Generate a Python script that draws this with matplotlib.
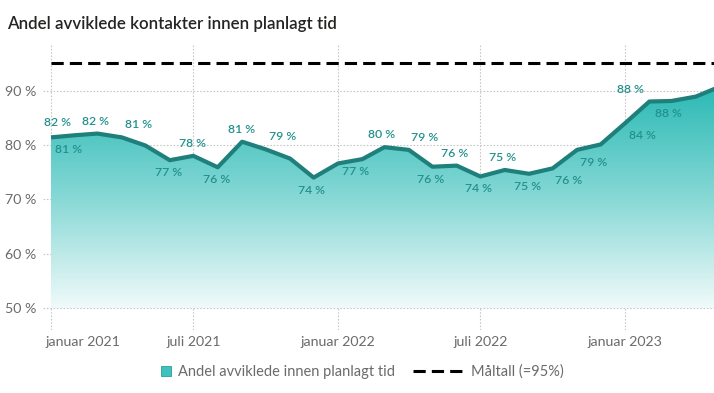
import numpy as np
import pandas as pd
import matplotlib
matplotlib.use("Agg")
import matplotlib.pyplot as plt
import matplotlib.dates as mdates
import matplotlib.transforms as mtransforms
from matplotlib.colors import LinearSegmentedColormap
from matplotlib.lines import Line2D

plt.rcParams['font.family'] = ['Lato', 'DejaVu Sans']

# monthly share (%) of contacts handled within planned time
months = pd.date_range("2021-01-01", "2023-05-01", freq="MS")
andel = [81.4, 81.8, 82.1, 81.4, 79.9, 77.2, 78.0, 75.9, 80.6, 79.2, 77.5, 74.0,
         76.6, 77.4, 79.6, 79.1, 76.0, 76.2, 74.2, 75.4, 74.7, 75.7, 79.1, 80.1,
         84.0, 88.0, 88.1, 88.9, 90.7]
maltall = 95

# which points carry a data label, above ('a') or below ('b')
label_side = ['b', 'a', 'a', 'a', None, 'b', 'a', 'b', 'a', 'a', None, 'b',
              None, 'b', 'a', 'a', 'b', 'a', 'b', 'a', 'b', 'b', 'b', None,
              'b', 'a', 'b', None, 'a']
# horizontal nudge of the labels (pixels), as the original rendering moved them
label_shift = [18, -18, -2, 17, 0, -1, -1, -1, -1, 17, 0, -2,
               0, -7, -3, 16, -2, -2, -2, -2, -2, 16, 17, 0,
               17, -19, -3, 0, -26]

yticks = [50, 60, 70, 80, 90]
xticks = pd.to_datetime(['2021-01-01', '2021-07-01', '2022-01-01', '2022-07-01', '2023-01-01'])
xticklabels = ['januar 2021', 'juli 2021', 'januar 2022', 'juli 2022', 'januar 2023']

W, H = 714, 393
fig = plt.figure(figsize=(W / 100, H / 100), dpi=100)
ax = fig.add_axes([43 / W, 63 / H, 671 / W, 285 / H])

line_col = '#1e7f7b'
lab_col = '#22918d'
x = mdates.date2num(months)

# gradient area under the line
poly = ax.fill_between(x, andel, 50, facecolor='none', edgecolor='none')
cmap = LinearSegmentedColormap.from_list('teal', ['#f0fafa', '#86d8d5', '#2ab9b5'])
grad = np.linspace(0, 1, 256).reshape(-1, 1)
im = ax.imshow(grad, extent=[x[0], x[-1], 50, 91], origin='lower', aspect='auto',
               cmap=cmap, zorder=1, interpolation='bicubic')
im.set_clip_path(poly.get_paths()[0], transform=ax.transData)

ax.plot(x, andel, color=line_col, lw=3, zorder=3, solid_capstyle='butt')
ax.plot([x[0], x[-1]], [maltall, maltall], color='black', lw=2.2,
        dashes=(4, 2), zorder=3)

for xi, v, side, dx in zip(x, andel, label_side, label_shift):
    if side is None:
        continue
    dy = 12.5 if side == 'a' else -12.5
    ax.annotate(f"{round(v)} %", (xi, v), xytext=(dx * 0.72, dy * 0.72),
                textcoords='offset points', ha='center', va='center',
                fontsize=8.8, fontweight='semibold', color=lab_col, zorder=4)

x0 = mdates.date2num(pd.Timestamp('2021-01-01')) - 10.2
ax.set_xlim(x0, x0 + 671 / 0.7863)
ax.set_ylim(45.95, 98.4)

ax.set_yticks(yticks)
ax.set_yticklabels([f"{t} %" for t in yticks])
ax.set_xticks(mdates.date2num(xticks))
ax.set_xticklabels(xticklabels)
ax.tick_params(length=0, labelsize=10.2, labelcolor='#6b6b6b')
ax.tick_params(axis='y', pad=5)
ax.tick_params(axis='x', pad=4)
first = ax.get_xticklabels()[0]
first.set_horizontalalignment('left')
first.set_transform(first.get_transform() +
                    mtransforms.ScaledTranslation(-6 / 100, 0, fig.dpi_scale_trans))

ax.grid(True, color='#c8c8c8', linestyle=(0, (1.5, 1.5)), lw=0.8)
ax.set_axisbelow(True)
for s in ax.spines.values():
    s.set_visible(False)

fig.text(7 / W, 1 - 24 / H, "Andel avviklede kontakter innen planlagt tid",
         fontsize=12.2, fontweight='semibold', color='#252423', va='center', ha='left')

# legend: two separate entries so each handle can get its own length
sq = Line2D([], [], marker='s', linestyle='none', markersize=7,
            markerfacecolor='#3fc2be', markeredgecolor='#2a9f9b', markeredgewidth=0.6)
dash = Line2D([], [], color='black', lw=2.2, dashes=(4, 2))
fig.legend([sq], ['Andel avviklede innen planlagt tid'], loc='center left',
           bbox_to_anchor=(160 / W, 1 - 372 / H), frameon=False, fontsize=10.5,
           labelcolor='#6b6b6b', handlelength=0.8, handletextpad=0.45,
           borderpad=0, borderaxespad=0)
fig.legend([dash], ['Måltall (=95%)'], loc='center left',
           bbox_to_anchor=(413 / W, 1 - 372 / H), frameon=False, fontsize=10.5,
           labelcolor='#6b6b6b', handlelength=3.5, handletextpad=0.5,
           borderpad=0, borderaxespad=0)

fig.savefig('out.png', dpi=100)
